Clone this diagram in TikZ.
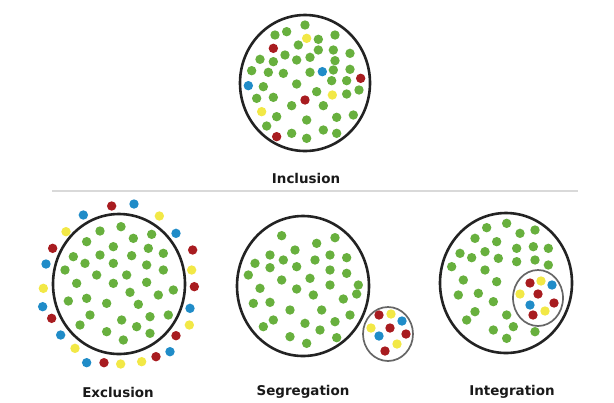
\documentclass[tikz,border=0pt]{standalone}
\usepackage{fontspec}
\setmainfont{DejaVu Sans}
\definecolor{cgreen}{RGB}{104,176,62}
\definecolor{cred}{RGB}{168,28,32}
\definecolor{cblue}{RGB}{32,140,200}
\definecolor{cyellow}{RGB}{242,232,70}
\definecolor{cline}{RGB}{35,35,35}
\tikzset{
  pdot/.style={circle,inner sep=0pt,minimum size=9.4bp,draw=none},
  gdot/.style={pdot,fill=cgreen},
  rdot/.style={pdot,fill=cred},
  bdot/.style={pdot,fill=cblue},
  ydot/.style={pdot,fill=cyellow},
  bigring/.style={draw=cline,line width=2.6bp},
  smallring/.style={draw=black!60,line width=1.7bp},
  lbl/.style={font=\fontsize{13.5}{15}\selectfont\bfseries,text=black!90}
}
\begin{document}
\begin{tikzpicture}[x=1bp,y=-1bp]
\useasboundingbox (0,0) rectangle (614,402);

% separator
\coordinate (sepL) at (52,191);
\coordinate (sepR) at (578,191);
\draw[black!15,line width=1.2bp] (sepL) -- (sepR);

% ---------- Inclusion ----------
\draw[bigring] (305,83) ellipse [x radius=65bp, y radius=68bp];
\begin{scope}[shift={(235,10)},scale=1/3]
\foreach \x/\y [count=\i] in {210/45,120/75,155/65,250/88,300/75,190/105,250/120,295/120,345/130,
  75/148,115/155,150/135,185/150,225/142,300/152,50/182,100/187,145/190,225/187,295/180,345/178,
  85/230,185/222,290/212,335/212,65/265,115/262,245/245,335/252,372/240,170/287,265/287,
  125/320,215/330,305/322,355/315,95/348,170/370,215/385,265/360,305/370}
  \node[gdot] (ig\i) at (\x,\y) {};
\node[ydot] (iy1) at (215,85) {};
\node[rdot] (ir1) at (115,115) {};
\node[bdot] (ib1) at (262,185) {};
\node[rdot] (ir2) at (377,205) {};
\node[bdot] (ib2) at (40,227) {};
\node[rdot] (ir3) at (210,270) {};
\node[ydot] (iy2) at (292,255) {};
\node[ydot] (iy3) at (80,305) {};
\node[rdot] (ir4) at (125,380) {};
\end{scope}
\node[lbl] (linc) at (306,178) {Inclusion};

% ---------- Exclusion ----------
\draw[bigring] (119,284) ellipse [x radius=66bp, y radius=70bp];
\begin{scope}[shift={(35,195)},scale=1/3]
\foreach \x/\y [count=\i] in {258/95,195/108,295/130,350/118,155/140,235/155,340/160,385/175,
  115/185,195/180,290/182,150/205,235/205,335/210,90/225,385/225,185/240,275/240,125/265,
  235/265,335/262,285/292,415/285,370/300,100/318,155/310,215/325,310/328,165/360,260/375,
  345/365,400/360,135/390,305/395,215/410,345/415,265/435}
  \node[gdot] (eg\i) at (\x,\y) {};
\end{scope}
\begin{scope}[shift={(30,190)},scale=1/3]
\foreach \x/\y/\c [count=\i] in {245/48/rdot,312/42/bdot,160/75/bdot,388/78/ydot,108/125/ydot,
  438/130/bdot,68/175/rdot,488/180/rdot,48/222/bdot,485/240/ydot,40/295/ydot,493/290/rdot,
  38/350/bdot,480/355/bdot,65/385/rdot,92/435/bdot,135/475/ydot,170/518/bdot,222/518/rdot,
  272/522/ydot,335/515/ydot,378/500/rdot,420/485/bdot,438/437/rdot,478/405/ydot}
  \node[\c] (ec\i) at (\x,\y) {};
\end{scope}
\node[lbl] (lexc) at (118,392) {Exclusion};

% ---------- Segregation ----------
\draw[bigring] (303,286) ellipse [x radius=66bp, y radius=70bp];
\begin{scope}[shift={(230,215)},scale=1/3]
\foreach \x/\y [count=\i] in {155/62,260/85,315/68,195/105,120/120,160/135,255/135,300/120,
  350/128,75/145,200/155,120/158,300/165,350/175,55/180,155/195,240/190,300/210,385/210,
  90/220,200/222,380/237,250/240,340/252,70/265,120/262,180/285,275/285,360/300,130/315,
  315/320,225/325,100/335,270/345,180/365,230/385,320/368}
  \node[gdot] (sg\i) at (\x,\y) {};
\end{scope}
\draw[smallring] (388,334) ellipse [x radius=25bp, y radius=27bp];
\node[rdot] (sr1) at (379,315) {};
\node[ydot] (sy1) at (391,314) {};
\node[bdot] (sb1) at (402,321) {};
\node[ydot] (sy2) at (371,328) {};
\node[rdot] (sr2) at (390,328) {};
\node[rdot] (sr3) at (406,334) {};
\node[bdot] (sb2) at (379,336) {};
\node[ydot] (sy3) at (397,344) {};
\node[rdot] (sr4) at (385,351) {};
\node[lbl] (lseg) at (303,392) {Segregation};

% ---------- Integration ----------
\draw[bigring] (506,283) ellipse [x radius=66bp, y radius=70bp];
\begin{scope}[shift={(435,205)},scale=1/3]
\foreach \x/\y [count=\i] in {155/68,215/55,120/100,255/85,300/75,185/110,75/145,150/140,
  110/158,245/130,295/125,340/130,50/185,190/160,150/195,245/170,300/165,340/180,85/225,
  185/230,70/270,130/265,175/290,120/320,215/330,95/345,175/375,235/365,300/380,215/400}
  \node[gdot] (tg\i) at (\x,\y) {};
\end{scope}
\draw[smallring] (538,298) ellipse [x radius=25bp, y radius=28bp];
\node[rdot] (tr1) at (530,283) {};
\node[ydot] (ty1) at (541,281) {};
\node[bdot] (tb1) at (552,285) {};
\node[ydot] (ty2) at (520,294) {};
\node[rdot] (tr2) at (538,294) {};
\node[bdot] (tb2) at (530,305) {};
\node[rdot] (tr3) at (554,303) {};
\node[ydot] (ty3) at (545,311) {};
\node[rdot] (tr4) at (533,315) {};
\node[lbl] (lint) at (512,392) {Integration};
\end{tikzpicture}
\end{document}
